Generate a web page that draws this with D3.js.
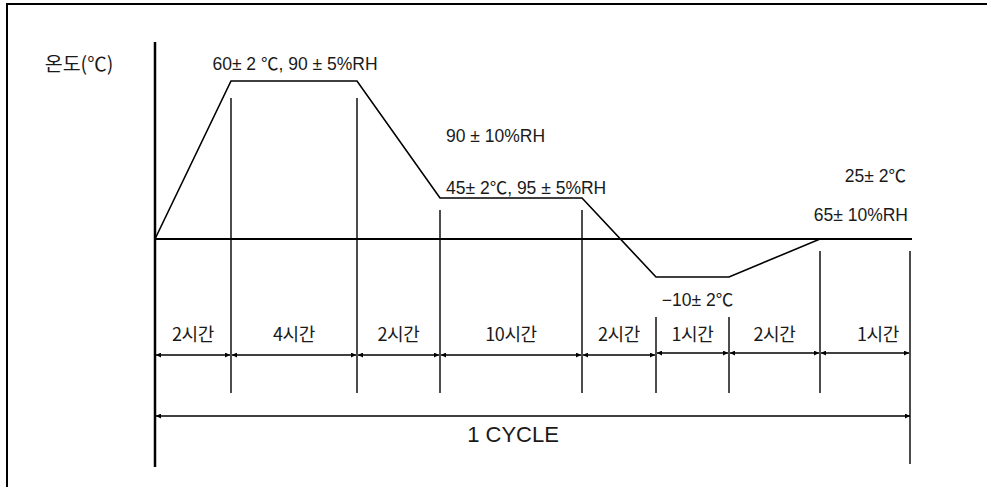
<html>
  <meta charset="utf-8" />
  <script src="https://d3js.org/d3.v7.min.js"></script>
  <style>
    body { margin: 0; background: #fff; }
    text { font-family: "Liberation Sans", Arial, "Noto Sans CJK KR", sans-serif; fill: #1a1a1a; }
    .kr { font-family: "Noto Sans CJK KR", "Liberation Sans", sans-serif; }
  </style>
  <body>
    <svg width="987" height="487" id="svg_cycle"></svg>

    <script>
      // one test cycle: stage lengths in hours
      const stageHours = [2, 4, 2, 10, 2, 1, 2, 1];
      const stageLabels = ["2시간", "4시간", "2시간", "10시간", "2시간", "1시간", "2시간", "1시간"];
      // chamber temperature at each stage boundary (start .. end of cycle)
      const boundaryTemps = [25, 60, 60, 45, 45, -10, -10, 25, 25];
      const tempLevels = [-10, 25, 45, 60];
      const baseTemp = 25;

      const noteHigh = "60± 2 ℃, 90 ± 5%RH";
      const noteRamp = "90 ± 10%RH";
      const noteMid = "45± 2℃, 95 ± 5%RH";
      const noteLow = "−10± 2℃";
      const noteBaseT = "25± 2℃";
      const noteBaseRH = "65± 10%RH";

      function drawCycle() {
        const svg = d3.select("#svg_cycle");
        const boundaries = [0].concat(Array.from(d3.cumsum(stageHours)));
        const total = boundaries[boundaries.length - 1];

        // schematic (not to scale) – each breakpoint gets its own spot
        const x = d3
          .scaleLinear()
          .domain(boundaries)
          .range([155, 231, 357, 440, 582, 656, 729, 820, 910]);
        const y = d3.scaleLinear().domain(tempLevels).range([277, 239, 198, 81]);

        // frame
        svg
          .append("path")
          .attr("d", "M7,487V4H987")
          .attr("fill", "none")
          .attr("stroke", "#000")
          .attr("stroke-width", 2);

        const defs = svg.append("defs");
        defs
          .append("marker")
          .attr("id", "head")
          .attr("viewBox", "0 0 10 10")
          .attr("refX", 10)
          .attr("refY", 5)
          .attr("markerWidth", 7)
          .attr("markerHeight", 5)
          .attr("markerUnits", "userSpaceOnUse")
          .attr("orient", "auto-start-reverse")
          .append("path")
          .attr("d", "M0,0L10,5L0,10z")
          .attr("fill", "#000");

        // temperature axis
        svg
          .append("line")
          .attr("x1", x(0))
          .attr("x2", x(0))
          .attr("y1", 42)
          .attr("y2", 467)
          .attr("stroke", "#000")
          .attr("stroke-width", 2.5);

        // base (room) level
        svg
          .append("line")
          .attr("x1", x(0))
          .attr("x2", x(total) + 2)
          .attr("y1", y(baseTemp))
          .attr("y2", y(baseTemp))
          .attr("stroke", "#000")
          .attr("stroke-width", 2);

        // stage boundary lines
        svg
          .selectAll(".bound")
          .data(boundaries.slice(1))
          .enter()
          .append("line")
          .attr("class", "bound")
          .attr("x1", (d) => x(d))
          .attr("x2", (d) => x(d))
          .attr("y1", (d, i) => {
            const t = boundaryTemps[i + 1];
            return t < baseTemp ? y(t) + 40 : y(t) + (t > 50 ? 17 : 12);
          })
          .attr("y2", (d, i) => (i === stageHours.length - 1 ? 464 : 393))
          .attr("stroke", "#000")
          .attr("stroke-width", 1.4);

        // temperature profile
        const line = d3
          .line()
          .x((d) => x(d[0]))
          .y((d) => y(d[1]));
        svg
          .append("path")
          .attr("d", line(d3.zip(boundaries, boundaryTemps)))
          .attr("fill", "none")
          .attr("stroke", "#000")
          .attr("stroke-width", 1.6)
          .attr("stroke-linejoin", "miter");

        // stage arrows + labels
        const arrowY = 355;
        const stages = stageHours.map((h, i) => ({
          h: h,
          label: stageLabels[i],
          from: boundaries[i],
          to: boundaries[i + 1],
        }));
        svg
          .selectAll(".stageArrow")
          .data(stages)
          .enter()
          .append("line")
          .attr("class", "stageArrow")
          .attr("x1", (d) => x(d.from) + 1)
          .attr("x2", (d) => x(d.to) - 1)
          .attr("y1", (d, i) => (i > 4 ? arrowY - 2 : arrowY))
          .attr("y2", (d, i) => (i > 4 ? arrowY - 2 : arrowY))
          .attr("stroke", "#000")
          .attr("stroke-width", 1.3)
          .attr("marker-start", "url(#head)")
          .attr("marker-end", "url(#head)");

        svg
          .selectAll(".stageLabel")
          .data(stages)
          .enter()
          .append("text")
          .attr("class", "stageLabel kr")
          .attr("x", (d, i) =>
            (x(d.from) + x(d.to)) / 2 + (i === stages.length - 1 ? 13 : 0)
          )
          .attr("y", arrowY - 14)
          .attr("text-anchor", "middle")
          .attr("font-size", 18)
          .attr("letter-spacing", -0.4)
          .text((d) => d.label);

        // whole cycle
        const cycleY = 416;
        svg
          .append("line")
          .attr("x1", x(0) + 1)
          .attr("x2", x(total))
          .attr("y1", cycleY)
          .attr("y2", cycleY)
          .attr("stroke", "#000")
          .attr("stroke-width", 1.3)
          .attr("marker-start", "url(#head)")
          .attr("marker-end", "url(#head)");
        svg
          .append("text")
          .attr("x", 513)
          .attr("y", cycleY + 26)
          .attr("text-anchor", "middle")
          .attr("font-size", 22)
          .text("1 CYCLE");

        // axis title
        svg
          .append("text")
          .attr("class", "kr")
          .attr("x", 79)
          .attr("y", 71)
          .attr("text-anchor", "middle")
          .attr("font-size", 19.5)
          .text("온도(℃)");

        // condition notes
        const note = (t, px, py, anchor) =>
          svg
            .append("text")
            .attr("x", px)
            .attr("y", py)
            .attr("text-anchor", anchor)
            .attr("font-size", 17.5)
            .text(t);

        note(noteHigh, (x(2) + x(6)) / 2 + 1, y(60) - 11, "middle");
        note(noteRamp, x(8) + 6, y(45) - 56, "start");
        note(noteMid, x(8) + 6, y(45) - 4, "start");
        note(noteLow, (x(20) + x(21)) / 2 + 5, y(-10) + 29, "middle");
        note(noteBaseT, x(total) - 4, y(baseTemp) - 57, "end");
        note(noteBaseRH, x(total) - 2, y(baseTemp) - 18, "end");
      }

      drawCycle();
    </script>
  </body>
</html>
